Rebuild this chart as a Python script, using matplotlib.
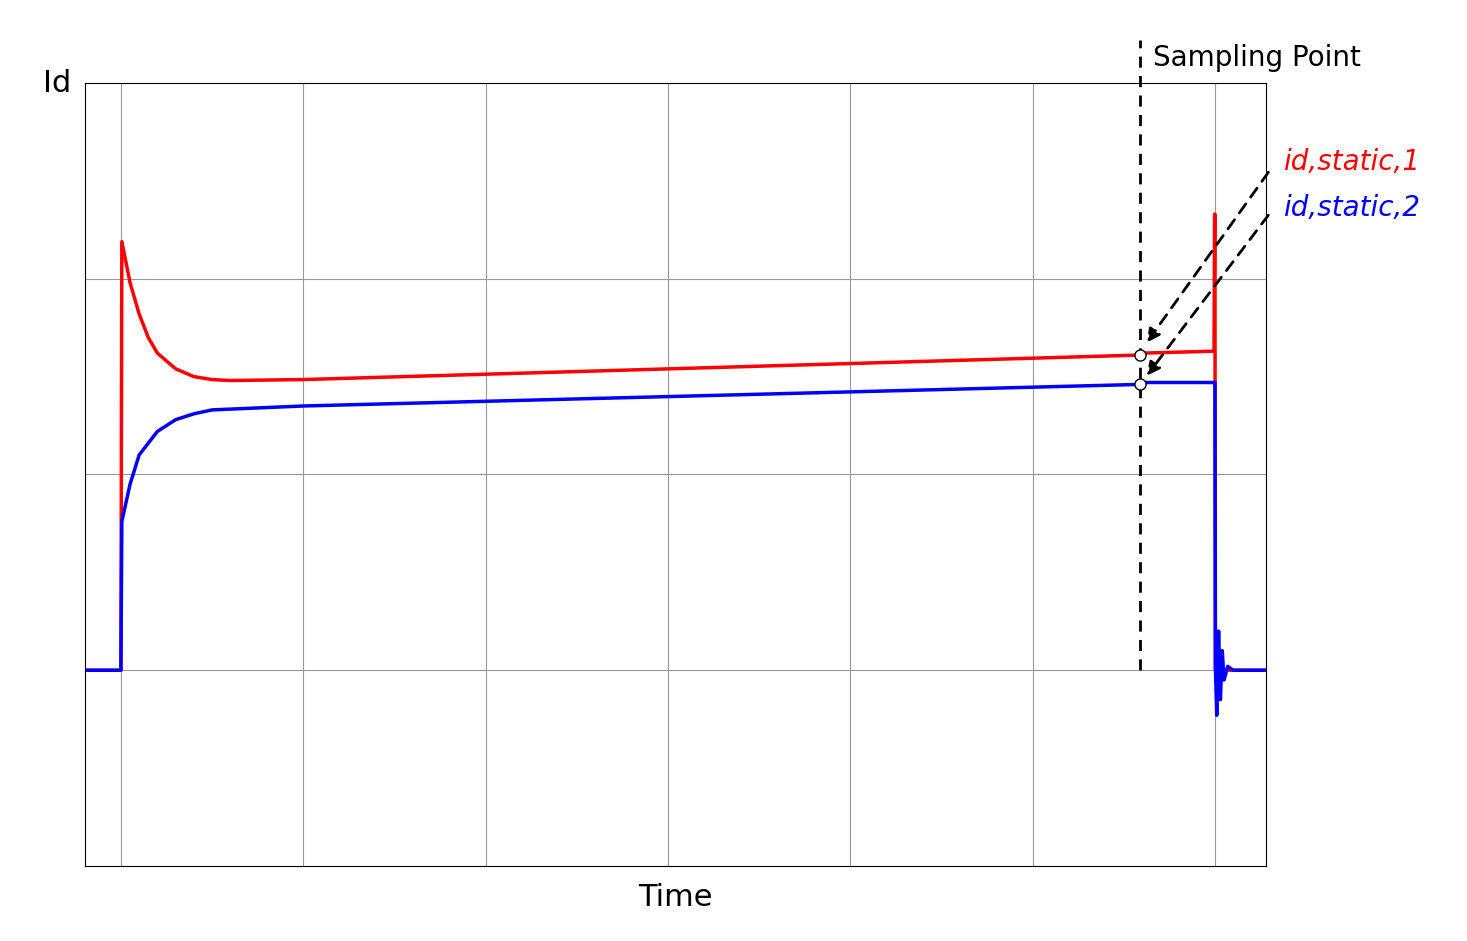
import matplotlib
matplotlib.use("Agg")
import matplotlib.pyplot as plt

red_t = [-0.2, 0, 0.005, 0.05, 0.1, 0.15, 0.2, 0.3, 0.4, 0.5, 0.6, 1.0, 5.58, 5.6, 5.995, 5.998, 6.0, 6.002, 6.28]
red_v = [1, 1, 3.19, 2.98, 2.82, 2.70, 2.62, 2.54, 2.50, 2.485, 2.48, 2.485, 2.61, 2.62, 2.63, 3.33, 3.33, 1, 1]
blue_t = [-0.2, 0, 0.005, 0.05, 0.1, 0.2, 0.3, 0.4, 0.5, 1.0, 5.58, 5.6, 6.0, 6.003, 6.01, 6.02, 6.03, 6.04, 6.05, 6.07, 6.1, 6.28]
blue_v = [1, 1, 1.76, 1.95, 2.1, 2.22, 2.28, 2.31, 2.33, 2.35, 2.46, 2.47, 2.47, 1.0, 0.77, 1.2, 0.85, 1.1, 0.95, 1.02, 1, 1]
sample_t = 5.59
sample_red = 2.61
sample_blue = 2.46

fig = plt.figure(figsize=(14.67, 9.41), dpi=100)
ax = fig.add_axes([85/1467, 1-866/941, 1181/1467, 783/941])
ax.set_xlim(-0.197, 6.28)
ax.set_ylim(0, 4)
ax.set_xticks(range(0, 7))
ax.set_yticks([1, 2, 3])
ax.tick_params(length=0, labelbottom=False, labelleft=False)
ax.grid(True, color="#999999", lw=0.8)
for s in ax.spines.values():
    s.set_linewidth(0.8)

ax.plot(red_t, red_v, color="red", lw=2.5)
ax.plot(blue_t, blue_v, color="blue", lw=2.5)
ax.plot([sample_t, sample_t], [1, 4.22], color="black", ls=(0, (4, 3)), lw=2, clip_on=False)
ax.plot([sample_t, sample_t], [sample_red, sample_blue], 'o', mfc="white", mec="black", ms=8, zorder=5)

fig.text(1153/1467, 1-58/941, "Sampling Point", fontsize=20, va="center")
fig.text(1283/1467, 1-162/941, "id,static,1", fontsize=20, color="red", style="italic", va="center")
fig.text(1283/1467, 1-208/941, "id,static,2", fontsize=20, color="blue", style="italic", va="center")
fig.text(57/1467, 1-83/941, "Id", fontsize=22, ha="center", va="center")
fig.text(675/1467, 1-898/941, "Time", fontsize=22, ha="center", va="center")

for (x0, y0, x1, y1) in [(1270, 170, 1145, 345), (1270, 213, 1145, 378)]:
    fig.add_artist(matplotlib.patches.FancyArrowPatch(
        (x0/1467, 1-y0/941), (x1/1467, 1-y1/941), transform=fig.transFigure,
        arrowstyle="-|>", mutation_scale=20, color="black", lw=2, ls=(0, (4, 3))))

fig.savefig("out.png", dpi=100)
